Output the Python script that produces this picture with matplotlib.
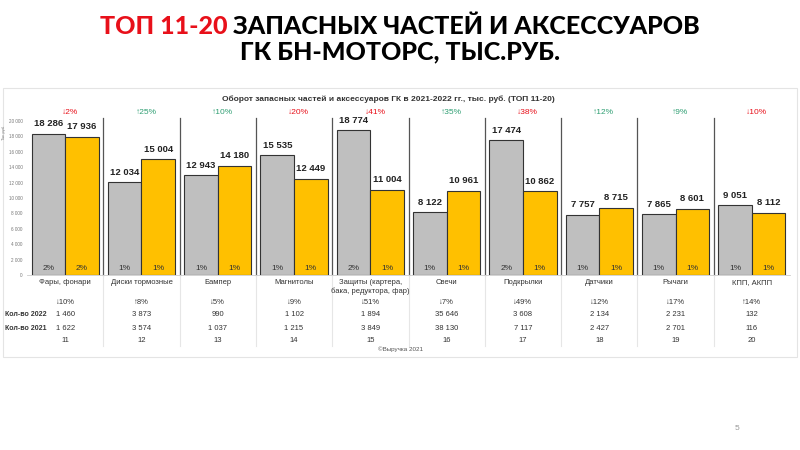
import matplotlib.pyplot as plt
import matplotlib.transforms as mtransforms
from matplotlib.patches import Rectangle

categories = ["Фары, фонари", "Диски тормозные", "Бампер", "Магнитолы",
              "Защиты (картера,\nбака, редуктора, фар)", "Свечи", "Подкрылки",
              "Датчики", "Рычаги", "КПП, АКПП"]
rev_2021 = [18286, 12034, 12943, 15535, 18774, 8122, 17474, 7757, 7865, 9051]
rev_2022 = [17936, 15004, 14180, 12449, 11004, 10961, 10862, 8715, 8601, 8112]
share_2021 = ["2%", "1%", "1%", "1%", "2%", "1%", "2%", "1%", "1%", "1%"]
share_2022 = ["2%", "1%", "1%", "1%", "1%", "1%", "1%", "1%", "1%", "1%"]
rev_change = ["↓2%", "↑25%", "↑10%", "↓20%", "↓41%", "↑35%", "↓38%", "↑12%", "↑9%", "↓10%"]
qty_change = ["↓10%", "↑8%", "↓5%", "↓9%", "↓51%", "↓7%", "↓49%", "↓12%", "↓17%", "↑14%"]
qty_2022 = [1460, 3873, 990, 1102, 1894, 35646, 3608, 2134, 2231, 132]
qty_2021 = [1622, 3574, 1037, 1215, 3849, 38130, 7117, 2427, 2701, 116]
ranks = [11, 12, 13, 14, 15, 16, 17, 18, 19, 20]
yticks = list(range(0, 20001, 2000))

GRAY = "#BFBFBF"
YELLOW = "#FFC000"
RED = "#E8101A"
GREEN = "#2E9E72"
FONT = ["Liberation Sans", "DejaVu Sans"]
plt.rcParams["font.family"] = FONT


def fmt(v):
    return f"{v:,}".replace(",", " ")


W, H = 800, 450
fig = plt.figure(figsize=(8, 4.5), dpi=100)
fig.patch.set_facecolor("white")


def fy(py):
    return 1 - py / H


# chart frame
fig.patches.append(Rectangle((3 / W, fy(357)), 794 / W, 269 / H, transform=fig.transFigure,
                             fill=False, edgecolor="#E4E4E4", linewidth=0.8))

ax = fig.add_axes([27 / W, fy(275), 763 / W, (275 - 121) / H])
n = len(categories)
xs = list(range(n))
bw = 0.44
ax.bar([x - bw / 2 for x in xs], rev_2021, width=bw, color=GRAY, edgecolor="#333333", linewidth=0.8)
ax.bar([x + bw / 2 for x in xs], rev_2022, width=bw, color=YELLOW, edgecolor="#333333", linewidth=0.8)
ax.set_xlim(-0.5, n - 0.5)
ax.set_ylim(0, 20000)
ax.set_yticks(yticks)
ax.set_yticklabels([fmt(t) for t in yticks], fontsize=3.3, color="#777777")
ax.tick_params(axis="y", length=0, pad=3)
ax.set_xticks([])
for s in ["top", "right", "left"]:
    ax.spines[s].set_visible(False)
ax.spines["bottom"].set_color("#CCCCCC")
ax.spines["bottom"].set_linewidth(0.6)

for i in xs:
    ax.text(i - bw / 2, rev_2021[i] + 750, fmt(rev_2021[i]), ha="center", va="bottom",
            fontsize=6.8, fontweight="bold", color="#222222")
    ax.text(i + bw / 2, rev_2022[i] + 750, fmt(rev_2022[i]), ha="center", va="bottom",
            fontsize=6.8, fontweight="bold", color="#222222")
    ax.text(i - bw / 2, 400, share_2021[i], ha="center", va="bottom", fontsize=6, color="#333333")
    ax.text(i + bw / 2, 400, share_2022[i], ha="center", va="bottom", fontsize=6, color="#333333")

bt = mtransforms.blended_transform_factory(ax.transData, fig.transFigure)

# separators
for k in range(1, n):
    x = k - 0.5
    ax.plot([x, x], [fy(118), fy(275)], transform=bt, color="#555555", linewidth=0.9, clip_on=False)
    ax.plot([x, x], [fy(275), fy(346)], transform=bt, color="#E6E6E6", linewidth=0.8, clip_on=False)

for i in xs:
    col = RED if rev_change[i].startswith("↓") else GREEN
    ax.text(i + 0.06, fy(113), rev_change[i], transform=bt, ha="center", va="center", fontsize=6, color=col)
    ax.text(i, fy(279), categories[i], transform=bt, ha="center", va="top", fontsize=5.5,
            color="#333333", linespacing=1.3)
    ax.text(i, fy(303), qty_change[i], transform=bt, ha="center", va="center", fontsize=5.5, color="#333333")
    ax.text(i, fy(315), fmt(qty_2022[i]), transform=bt, ha="center", va="center", fontsize=5.5, color="#333333")
    ax.text(i, fy(328), fmt(qty_2021[i]), transform=bt, ha="center", va="center", fontsize=5.5, color="#333333")
    ax.text(i, fy(340), str(ranks[i]), transform=bt, ha="center", va="center", fontsize=5.5, color="#333333")

fig.text(5 / W, fy(315), "Кол-во 2022", ha="left", va="center", fontsize=5, fontweight="bold", color="#333333")
fig.text(5 / W, fy(328), "Кол-во 2021", ha="left", va="center", fontsize=5, fontweight="bold", color="#333333")
fig.text(4 / W, fy(132), "Тыс.руб", ha="center", va="center", rotation=90, fontsize=3, color="#777777")
fig.text(388 / W, fy(99), "Оборот запасных частей и аксессуаров ГК в 2021-2022 гг., тыс. руб. (ТОП 11-20)",
         ha="center", va="center", fontsize=6, fontweight="bold", color="#333333")
fig.text(400 / W, fy(349), "©Выручка 2021", ha="center", va="center", fontsize=4.5, color="#555555")
fig.text(737 / W, fy(428), "5", ha="center", va="center", fontsize=6, color="#999999")

# slide title
tfont = dict(family=["Lato", "DejaVu Sans"], fontweight="black", fontsize=18)
renderer = fig.canvas.get_renderer()
red_part = "ТОП 11-20 "
black_part = "ЗАПАСНЫХ ЧАСТЕЙ И АКСЕССУАРОВ"
t1 = fig.text(0, fy(26), red_part, color=RED, va="center", ha="left", **tfont)
t2 = fig.text(0, fy(26), black_part, color="black", va="center", ha="left", **tfont)
w1 = t1.get_window_extent(renderer).width
w2 = t2.get_window_extent(renderer).width
x0 = (W - w1 - w2) / 2
t1.set_x(x0 / W)
t2.set_x((x0 + w1) / W)
fig.text(0.5, fy(52), "ГК БН-МОТОРС, ТЫС.РУБ.", color="black", ha="center", va="center", **tfont)

fig.savefig("out.png", dpi=100, facecolor="white")
